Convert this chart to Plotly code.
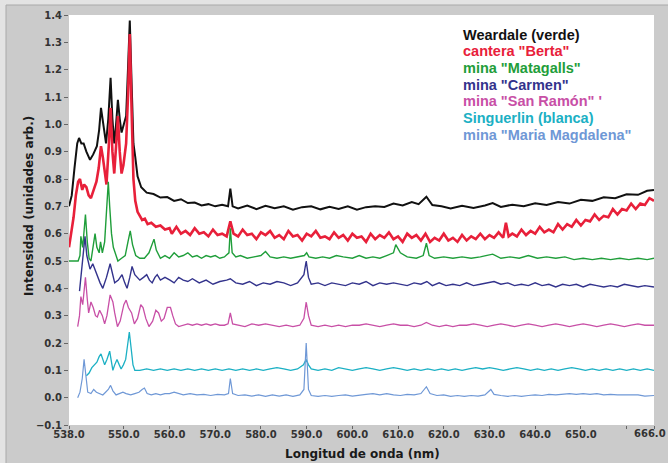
import plotly.graph_objects as go

# ---- spectra: wavelength (nm) and intensity (arb. units) ----
wl_weardale = [538.0, 538.6, 539.2, 539.8, 540.2, 540.7, 541.2, 541.8, 542.6, 543.3, 544.1, 544.6,
               545.0, 545.5, 546.1, 546.6, 547.1, 547.5, 547.9, 548.3, 548.7, 549.1, 549.5, 550.0,
               550.5, 550.9, 551.3, 551.7, 552.1, 552.5, 553.0, 553.8, 555.0, 556.5, 558.0, 559.5,
               561.0, 562.5, 564.0, 565.5, 567.0, 568.5, 570.0, 571.5, 572.8, 573.3, 573.8, 575.0,
               577, 579, 581, 583, 585, 587, 589, 591, 593, 595, 597, 599, 601, 603, 605, 607, 609,
               611, 613, 614.5, 616.2, 617.5, 619.5, 621.5, 624, 626.5, 629, 630.7, 632.5, 635,
               637.5, 640, 642.5, 645, 647.5, 650, 652.5, 655, 657.5, 660, 662.5, 664.5, 666]
int_weardale = [0.70, 0.74, 0.84, 0.93, 0.95, 0.93, 0.93, 0.90, 0.87, 0.89, 0.92, 0.98,
                1.06, 1.00, 0.93, 1.02, 1.17, 1.02, 0.93, 1.00, 1.09, 1.02, 0.97, 1.00,
                1.03, 1.20, 1.38, 1.15, 0.93, 0.88, 0.81, 0.77, 0.75, 0.745, 0.732, 0.734,
                0.72, 0.726, 0.712, 0.714, 0.703, 0.708, 0.70, 0.706, 0.70, 0.765, 0.70, 0.692,
                0.703, 0.69, 0.702, 0.693, 0.70, 0.688, 0.697, 0.70, 0.689, 0.698, 0.69, 0.70, 0.688, 0.697, 0.70, 0.698, 0.71,
                0.703, 0.716, 0.708, 0.735, 0.705, 0.70, 0.692, 0.702, 0.694, 0.703, 0.712, 0.698, 0.706,
                0.70, 0.711, 0.705, 0.716, 0.71, 0.724, 0.72, 0.733, 0.73, 0.744, 0.742, 0.757, 0.76]

wl_berta = [538.0, 538.5, 539.0, 539.5, 540.0, 540.4, 540.9, 541.3, 541.8, 542.3, 542.8, 543.4,
            544.0, 544.5, 545.0, 545.4, 545.8, 546.2, 546.7, 547.1, 547.5, 547.9, 548.3, 548.7,
            549.1, 549.5, 549.9, 550.5, 550.9, 551.3, 551.7, 552.1, 552.5, 553.0, 553.5, 554.0,
            554.6, 555.2, 556.0, 557.0, 558.0, 559.0, 560.0, 560.5, 561.5, 562.5, 563.5, 564.5,
            565.5, 566.5, 567.5, 568.5, 569.5, 570.5, 571.5, 572.5, 573.3, 574, 575, 576, 577,
            578, 579, 580, 581, 582, 583, 584, 585, 586, 587, 588, 589, 590, 591, 592, 593, 594,
            595, 596, 597, 598, 599, 600, 601, 602, 603, 604, 605, 606, 607, 608, 609, 610, 611,
            612, 613, 614, 615, 616, 617, 618, 619, 620, 621, 622, 623, 624, 625, 626, 627, 628,
            629, 630, 631, 632, 633, 633.6, 634.2, 635, 636, 637, 638, 639, 640, 641, 642, 643,
            644, 645, 646, 647, 648, 649, 650, 651, 652, 653, 654, 655, 656, 657, 658, 659, 660,
            661, 662, 663, 664, 665, 666]
int_berta = [0.55, 0.60, 0.66, 0.74, 0.79, 0.80, 0.76, 0.78, 0.77, 0.74, 0.73, 0.76,
             0.79, 0.84, 0.92, 0.88, 0.82, 0.78, 0.92, 1.06, 0.90, 0.82, 0.92, 1.03,
             0.90, 0.82, 0.85, 0.93, 1.10, 1.33, 1.05, 0.80, 0.72, 0.68, 0.665, 0.65,
             0.655, 0.635, 0.64, 0.625, 0.63, 0.615, 0.62,
             0.60, 0.625, 0.60, 0.61, 0.595, 0.62, 0.60, 0.605, 0.59, 0.615, 0.595, 0.60, 0.59,
             0.645, 0.60,
             0.59, 0.615, 0.595, 0.60, 0.58, 0.605, 0.595, 0.61, 0.585, 0.595,
             0.58, 0.61, 0.59, 0.595, 0.575, 0.60, 0.59, 0.61, 0.585, 0.59,
             0.58, 0.605, 0.585, 0.595, 0.575, 0.60, 0.585, 0.59, 0.57, 0.60,
             0.58, 0.595, 0.585, 0.605, 0.58, 0.59, 0.57, 0.60, 0.585, 0.595,
             0.575, 0.60, 0.57, 0.585, 0.575, 0.60, 0.575, 0.585, 0.57, 0.595,
             0.575, 0.59, 0.58, 0.60, 0.58, 0.595, 0.585, 0.605, 0.585,
             0.64, 0.59,
             0.60, 0.59, 0.615, 0.595, 0.61, 0.60, 0.625, 0.605, 0.615, 0.605,
             0.635, 0.615, 0.635, 0.625, 0.65, 0.63, 0.65, 0.645, 0.67, 0.65,
             0.665, 0.66, 0.69, 0.67, 0.69, 0.685, 0.71, 0.69, 0.71, 0.705,
             0.73, 0.72]

wl_matagalls = [538.0, 539.0, 540.0, 540.4, 540.6, 541.0, 541.3, 541.6, 542.0, 542.4, 542.8, 543.4,
                543.7, 544.1, 544.6, 544.9, 545.3, 545.8, 546.3, 546.6, 546.9, 547.3, 547.7, 548.2,
                548.7, 549.5, 550.3, 550.9, 551.4, 551.9, 552.6, 553.5, 554.5, 555.5, 556.2, 556.6,
                557.1, 558.0, 559.0, 560.0, 561.0, 562.0, 563, 564, 565, 566, 567, 568, 569, 570,
                571, 572, 573.0, 573.3, 573.7, 574.5, 575.5, 577, 578.5, 580, 581, 582, 583.5, 585,
                586.5, 588, 589.5, 590, 590.5, 592, 593.5, 595, 596.5, 598, 600, 601.5, 603, 604.5,
                606, 607.5, 609, 609.5, 610.5, 612, 614, 615.5, 616.2, 616.8, 618, 620, 622, 624,
                626, 628, 630.7, 632.5, 634.5, 636.5, 638.5, 640.5, 642.5, 644.5, 646.5, 648.5,
                650.5, 652.5, 654.5, 656.5, 658.5, 660.5, 662.5, 664.5, 666]
int_matagalls = [0.50, 0.50, 0.50, 0.52, 0.59, 0.55, 0.60, 0.67, 0.57, 0.51, 0.50, 0.57,
                 0.60, 0.55, 0.53, 0.57, 0.53, 0.57, 0.70, 0.79, 0.70, 0.60, 0.55, 0.52,
                 0.50, 0.51, 0.52, 0.57, 0.61, 0.56, 0.52, 0.51, 0.51, 0.53, 0.56, 0.58,
                 0.54, 0.51, 0.52, 0.51, 0.53, 0.515, 0.52, 0.53, 0.515, 0.52, 0.51, 0.52, 0.515, 0.52,
                 0.51, 0.515, 0.53, 0.62, 0.53, 0.515, 0.52, 0.51, 0.515, 0.52, 0.535, 0.515, 0.51, 0.515,
                 0.51, 0.515, 0.52, 0.53, 0.515, 0.51, 0.515, 0.51, 0.52, 0.515, 0.51, 0.52, 0.51, 0.515,
                 0.51, 0.52, 0.53, 0.56, 0.53, 0.515, 0.51, 0.52, 0.565, 0.52, 0.51, 0.515, 0.51, 0.515,
                 0.51, 0.515, 0.525, 0.51, 0.515, 0.51, 0.52, 0.51, 0.515, 0.51, 0.515, 0.505,
                 0.51, 0.505, 0.51, 0.505, 0.51, 0.505, 0.51, 0.505, 0.51]

wl_carmen = [540.3, 540.8, 541.2, 541.5, 541.9, 542.6, 543.2, 544.1, 544.8, 545.4, 546.2, 547.0,
             547.5, 548.0, 548.8, 549.6, 550.2, 550.7, 551.3, 551.8, 552.4, 553.5, 554.3, 555.0,
             555.6, 556.2, 556.8, 557.3, 558.0, 559.0, 560.1, 561, 562, 563, 564, 565, 566.5,
             568, 569.5, 571, 572.5, 573.3, 574.5, 576, 577.5, 579, 580.5, 582, 583.5, 585, 586.5,
             588, 589.4, 589.9, 590.4, 591, 592.5, 594, 595.5, 597, 598.5, 600, 601.5, 603, 604.5,
             606, 607.5, 609, 610.5, 612, 613.5, 615, 616.3, 617.5, 619, 620.5, 622, 623.5, 625,
             626.5, 628, 629.5, 631, 632.5, 634, 635.5, 637, 638.5, 640, 641.5, 643, 644.5, 646,
             647.5, 649, 650.5, 652, 653.5, 655, 656.5, 658, 659.5, 661, 662.5, 664, 666]
int_carmen = [0.39, 0.47, 0.55, 0.59, 0.52, 0.47, 0.49, 0.45, 0.42, 0.40, 0.44, 0.49,
              0.46, 0.42, 0.43, 0.45, 0.42, 0.40, 0.44, 0.48, 0.45, 0.43, 0.44, 0.45,
              0.43, 0.42, 0.44, 0.45, 0.43, 0.44, 0.43, 0.42, 0.44, 0.43, 0.425, 0.435, 0.42,
              0.43, 0.415, 0.425, 0.43, 0.435, 0.42, 0.415, 0.425, 0.41, 0.42, 0.415, 0.425, 0.42, 0.41,
              0.42, 0.45, 0.50, 0.44, 0.415, 0.42, 0.41, 0.42, 0.415, 0.41, 0.42, 0.415, 0.425, 0.41,
              0.42, 0.415, 0.42, 0.415, 0.41, 0.42, 0.415, 0.425, 0.41, 0.42, 0.41, 0.415, 0.41, 0.42,
              0.41, 0.415, 0.42, 0.425, 0.415, 0.42, 0.41, 0.415, 0.41, 0.42, 0.41, 0.415, 0.405, 0.415,
              0.41, 0.415, 0.405, 0.415, 0.41, 0.405, 0.41, 0.405, 0.415, 0.41, 0.405, 0.41, 0.405]

wl_sanramon = [539.9, 540.3, 540.6, 541.0, 541.3, 541.6, 542.0, 542.3, 542.8, 543.3, 543.8, 544.2,
               544.7, 545.3, 545.8, 546.3, 547.0, 547.6, 548.0, 548.6, 549.2, 550.0, 550.5, 551.0,
               551.7, 552.3, 553.0, 553.7, 554.2, 554.8, 555.5, 556.3, 557.0, 557.6, 558.2, 558.8,
               559.5, 560.2, 560.7, 561.3, 562, 563, 564, 565, 566, 567, 568, 569, 570, 571, 572,
               572.8, 573.3, 573.8, 575, 576.5, 578, 579.5, 581, 582.5, 584, 585.5, 587, 588.5,
               589.4, 589.9, 590.4, 591, 592.5, 594, 595.5, 597, 598.5, 600, 601.5, 603, 604.5, 606,
               607.5, 609, 610.5, 612, 613.5, 615, 616.2, 617.5, 619, 620.5, 622, 623.5, 625, 626.5,
               628, 629.5, 631, 632.5, 634, 635.5, 637, 638.5, 640, 641.5, 643, 644.5, 646, 647.5,
               649, 650.5, 652, 653.5, 655, 656.5, 658, 659.5, 661, 662.5, 664, 666]
int_sanramon = [0.26, 0.30, 0.37, 0.34, 0.39, 0.44, 0.36, 0.31, 0.35, 0.33, 0.30, 0.295,
                0.32, 0.30, 0.27, 0.30, 0.376, 0.35, 0.31, 0.26, 0.28, 0.34, 0.357, 0.33,
                0.31, 0.27, 0.29, 0.34, 0.33, 0.29, 0.26, 0.28, 0.32, 0.31, 0.28, 0.29,
                0.33, 0.33, 0.30, 0.27, 0.26, 0.265, 0.27, 0.265, 0.27, 0.265, 0.27, 0.265, 0.27, 0.265, 0.265,
                0.27, 0.31, 0.27, 0.265, 0.26, 0.27, 0.265, 0.27, 0.265, 0.26, 0.265, 0.26, 0.265,
                0.29, 0.35, 0.30, 0.265, 0.26, 0.265, 0.26, 0.265, 0.26, 0.265, 0.265, 0.27, 0.265, 0.26,
                0.265, 0.27, 0.265, 0.265, 0.26, 0.265, 0.275, 0.265, 0.26, 0.265, 0.26, 0.265, 0.265, 0.27,
                0.265, 0.26, 0.265, 0.27, 0.265, 0.26, 0.265, 0.27, 0.265, 0.26, 0.265, 0.27, 0.265, 0.26,
                0.265, 0.27, 0.265, 0.26, 0.265, 0.27, 0.265, 0.26, 0.265, 0.27, 0.265, 0.265]

wl_singuerlin = [541.8, 542.4, 543.0, 543.6, 544.1, 544.6, 545.0, 545.4, 545.8, 546.3, 546.9, 547.3,
                 547.6, 548.0, 548.5, 549.0, 549.4, 549.9, 550.4, 550.8, 551.2, 551.6, 552.0, 552.4,
                 553.5, 555, 556.5, 558, 559.5, 561, 562.5, 564, 565.5, 567, 568.5, 570, 571.5, 573,
                 574.5, 576, 577.5, 579, 580.5, 582, 583.5, 585, 586.5, 588, 589.3, 589.9, 590.4, 591,
                 592.5, 594, 595.5, 597, 598.5, 600, 601.5, 603, 604.5, 606, 607.5, 609, 610.5, 612,
                 613.5, 615, 616.5, 618, 619.5, 621, 622.5, 624, 625.5, 627, 628.5, 630, 631.5, 633,
                 634.5, 636, 637.5, 639, 640.5, 642, 643.5, 645, 646.5, 648, 649.5, 651, 652.5, 654,
                 655.5, 657, 658.5, 660, 661.5, 663, 664.5, 666]
int_singuerlin = [0.08, 0.09, 0.11, 0.12, 0.13, 0.15, 0.16, 0.14, 0.12, 0.14, 0.17, 0.13,
                  0.10, 0.12, 0.14, 0.12, 0.105, 0.12, 0.14, 0.19, 0.24, 0.18, 0.12, 0.10,
                  0.10, 0.105, 0.10, 0.105, 0.10, 0.105, 0.10, 0.105, 0.10, 0.105, 0.10, 0.105, 0.10, 0.105,
                  0.10, 0.105, 0.10, 0.105, 0.10, 0.105, 0.11, 0.105, 0.10, 0.105, 0.12, 0.14, 0.12, 0.105,
                  0.10, 0.105, 0.10, 0.11, 0.105, 0.10, 0.105, 0.11, 0.105, 0.10, 0.105, 0.11, 0.105, 0.10,
                  0.105, 0.10, 0.105, 0.10, 0.105, 0.10, 0.105, 0.10, 0.105, 0.11, 0.105, 0.11, 0.105, 0.10,
                  0.105, 0.11, 0.105, 0.10, 0.105, 0.10, 0.105, 0.10, 0.105, 0.11, 0.105, 0.10, 0.105, 0.10,
                  0.105, 0.10, 0.105, 0.10, 0.105, 0.10, 0.105, 0.10]

wl_magdalena = [539.9, 540.4, 540.9, 541.3, 541.7, 542.1, 542.8, 543.4, 544.0, 544.8, 545.4, 546.0,
                546.6, 547.1, 547.6, 548.3, 549.0, 549.8, 550.5, 551.5, 552.4, 553.3, 554.0, 554.5,
                555.1, 556, 557, 558, 559, 560, 561, 562, 563, 564.5, 566, 567.5, 569, 570.5, 572,
                572.9, 573.3, 573.8, 575, 576.5, 578, 579.5, 581, 582.5, 584, 585.5, 587, 588.5,
                589.4, 589.9, 590.4, 591, 592.5, 594, 595.5, 597, 598.5, 600, 601.5, 603, 604.5, 606,
                607.5, 609, 610.5, 612, 613.5, 615, 616.2, 617, 618.5, 620, 621.5, 623, 624.5, 626,
                627.5, 629, 630.3, 631, 632.5, 634, 635.5, 637, 638.5, 640, 641.5, 643, 644.5, 646,
                647.5, 649, 650.5, 652, 653.5, 655, 656.5, 658, 659.5, 661, 662.5, 664, 666]
int_magdalena = [0.00, 0.02, 0.07, 0.14, 0.08, 0.02, 0.015, 0.03, 0.02, 0.015, 0.01, 0.02,
                 0.03, 0.045, 0.025, 0.01, 0.015, 0.02, 0.015, 0.01, 0.015, 0.02, 0.03, 0.035,
                 0.015, 0.01, 0.015, 0.01, 0.015, 0.015, 0.02, 0.015, 0.01, 0.015, 0.01, 0.012, 0.008, 0.012, 0.01,
                 0.015, 0.07, 0.015, 0.008, 0.01, 0.006, 0.01, 0.005, 0.01, 0.006, 0.01, 0.005, 0.01,
                 0.03, 0.20, 0.03, 0.008, 0.005, 0.008, 0.005, 0.008, 0.01, 0.006, 0.01, 0.012, 0.015, 0.01,
                 0.015, 0.01, 0.008, 0.012, 0.01, 0.015, 0.04, 0.015, 0.008, 0.01, 0.005, 0.008, 0.005, 0.008,
                 0.006, 0.01, 0.03, 0.012, 0.008, 0.005, 0.008, 0.005, 0.008, 0.01, 0.008, 0.012, 0.01, 0.012,
                 0.015, 0.012, 0.015, 0.012, 0.015, 0.01, 0.012, 0.01, 0.01, 0.008, 0.01, 0.006, 0.008]

series_names = ['Weardale (verde)', 'cantera "Berta"', 'mina "Matagalls"', 'mina "Carmen"',
                'mina "San Ramón" \'', 'Singuerlin (blanca)', 'mina "Maria Magdalena"']
series_colors = ['#111111', '#e8203a', '#1f9e3a', '#33338c', '#c84fa6', '#1bb0c4', '#6f98d6']
series_widths = [2.0, 2.6, 1.4, 1.4, 1.3, 1.3, 1.2]

# the last tick (666.0) sits on the right edge; its label is placed flush right below
x_tickvals = [538, 550, 560, 570, 580, 590, 600, 610, 620, 630, 640, 650, 660, 666]
x_ticktext = ['538.0', '550.0', '560.0', '570.0', '580.0', '590.0', '600.0', '610.0',
              '620.0', '630.0', '640.0', '650.0', '', '']
x_end_label = '666.0'
y_tickvals = [-0.1, 0.0, 0.1, 0.2, 0.3, 0.4, 0.5, 0.6, 0.7, 0.8, 0.9, 1.0, 1.1, 1.2, 1.3, 1.4]

spectra = [
    (wl_weardale, int_weardale),
    (wl_berta, int_berta),
    (wl_matagalls, int_matagalls),
    (wl_carmen, int_carmen),
    (wl_sanramon, int_sanramon),
    (wl_singuerlin, int_singuerlin),
    (wl_magdalena, int_magdalena),
]
for wl, val in spectra:
    assert len(wl) == len(val), (len(wl), len(val))

fig = go.Figure()
for (wl, val), name, color, width in zip(spectra, series_names, series_colors, series_widths):
    fig.add_trace(go.Scatter(x=wl, y=val, mode='lines', name=name,
                             line=dict(color=color, width=width), showlegend=False))

tick_font = dict(family='DejaVu Sans', size=10, color='#333333', weight='bold')

fig.update_xaxes(range=[538, 666], tickvals=x_tickvals, ticktext=x_ticktext,
                 showgrid=False, zeroline=False, showline=False, automargin=False,
                 ticklabelstandoff=-3,
                 ticks='outside', ticklen=3, tickcolor='#666666', tickfont=tick_font)
fig.update_yaxes(range=[-0.1, 1.4], tickvals=y_tickvals, tickformat='.1f',
                 showgrid=False, zeroline=False, showline=False, automargin=False,
                 ticks='outside', ticklen=4, tickcolor='#666666', tickfont=tick_font)

# panel frame: light outer strip, gray panel, white plotting area
plot_l, plot_r, plot_t, plot_b = 69, 654, 15, 425
W, H = 668, 463
pw, ph = plot_r - plot_l, plot_b - plot_t

def px_x(p):
    return (p - plot_l) / pw

def px_y(p):
    return (plot_b - p) / ph

shapes = [
    dict(type='rect', xref='paper', yref='paper', layer='below',
         x0=px_x(6), x1=px_x(W + 2), y0=px_y(H + 2), y1=px_y(5),
         fillcolor='#cbcbcb', line=dict(color='#a9a9a9', width=1)),
    dict(type='rect', xref='paper', yref='paper', layer='below',
         x0=0, x1=1, y0=0, y1=1, fillcolor='white', line=dict(width=0)),
]

annotations = []
legend_rows = [35, 51.5, 68, 84.5, 101, 118, 135]
for name, color, row in zip(series_names, series_colors, legend_rows):
    annotations.append(dict(xref='paper', yref='paper', x=px_x(461), y=px_y(row),
                            xanchor='left', yanchor='middle', showarrow=False, text=name,
                            font=dict(family='Liberation Sans', size=14.5, color=color, weight='bold')))

annotations.append(dict(xref='paper', yref='paper', x=px_x(667), y=px_y(433),
                        xanchor='right', yanchor='middle', showarrow=False,
                        text=x_end_label, font=tick_font, borderpad=0))

title_font = dict(family='DejaVu Sans', size=12, color='#1a1a1a', weight='bold')
annotations.append(dict(xref='paper', yref='paper', x=px_x(362), y=px_y(454),
                        xanchor='center', yanchor='middle', showarrow=False,
                        text='Longitud de onda (nm)', font=title_font))
annotations.append(dict(xref='paper', yref='paper', x=px_x(29), y=px_y(206),
                        xanchor='center', yanchor='middle', showarrow=False, textangle=-90,
                        text='Intensidad (unidades arb.)', font=title_font))

fig.update_layout(
    width=W, height=H,
    margin=dict(l=plot_l, r=W - plot_r, t=plot_t, b=H - plot_b, autoexpand=False),
    paper_bgcolor='#e3e3e3', plot_bgcolor='rgba(0,0,0,0)',
    shapes=shapes, annotations=annotations,
)

fig.write_html('out.html')
